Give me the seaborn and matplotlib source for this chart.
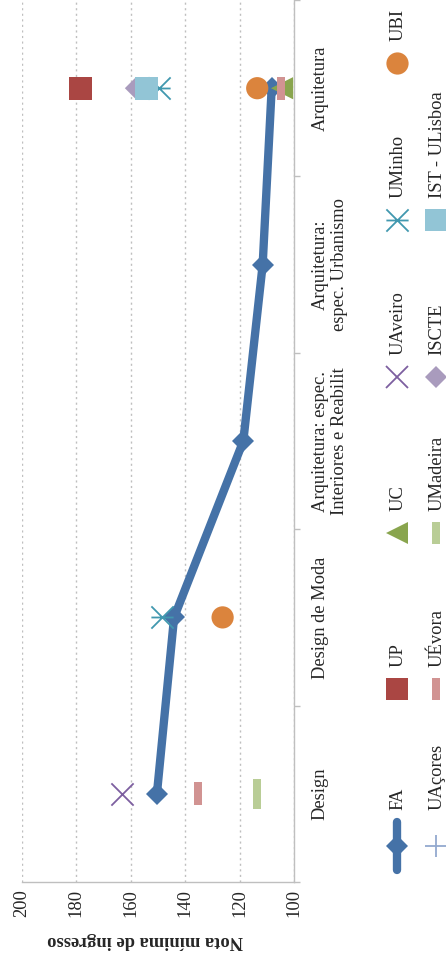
import numpy as np
import matplotlib
matplotlib.use("Agg")
import matplotlib.pyplot as plt
from matplotlib.path import Path
import seaborn as sns

# ---------------- data ----------------
categories = ["Design", "Design de Moda",
              "Arquitetura: espec.\nInteriores e Reabilit",
              "Arquitetura:\nespec. Urbanismo", "Arquitetura"]
value_ticks = [100, 120, 140, 160, 180, 200]
axis_label = "Nota mínima de ingresso"
series_names = ["FA", "UP", "UC", "UAveiro", "UMinho", "UBI",
                "UAçores", "UÉvora", "UMadeira", "ISCTE", "IST - ULisboa"]

nan = np.nan
fa = [150.4, 144.1, 118.7, 111.6, 108.3]
up = [nan, nan, nan, nan, 178.4]
uc = [nan, nan, nan, nan, 104.5]
uaveiro = [163.1, nan, nan, nan, nan]
uminho = [nan, 148.6, nan, nan, 149.8]
ubi = [nan, 126.3, nan, nan, 113.6]
uacores = [nan, nan, nan, nan, nan]
uevora = [135.4, nan, nan, nan, 105.0]
umadeira = [113.8, nan, nan, nan, nan]
iscte = [nan, nan, nan, nan, 158.2]
ist = [nan, nan, nan, nan, 154.2]

values = {"FA": fa, "UP": up, "UC": uc, "UAveiro": uaveiro, "UMinho": uminho,
          "UBI": ubi, "UAçores": uacores, "UÉvora": uevora, "UMadeira": umadeira,
          "ISCTE": iscte, "IST - ULisboa": ist}

# ---------------- styles ----------------
M, L, C = Path.MOVETO, Path.LINETO, Path.CLOSEPOLY
star_path = Path([(-1, -1), (1, 1), (-1, 1), (1, -1), (-1, 0), (1, 0)],
                 [M, L, M, L, M, L])
bar_path = Path([(-0.17, -0.5), (0.17, -0.5), (0.17, 0.5), (-0.17, 0.5), (-0.17, -0.5)],
                [M, L, L, L, C])
bar_path_tall = Path([(-0.13, -0.5), (0.13, -0.5), (0.13, 0.5), (-0.13, 0.5), (-0.13, -0.5)],
                     [M, L, L, L, C])

FA_COLOR = "#4572A7"
styles = {
    "UP": dict(marker="s", size=16.5, color="#AA4643", filled=True),
    "UC": dict(marker="<", size=16, color="#89A54E", filled=True),
    "UAveiro": dict(marker="x", size=16, color="#7D5FA0", filled=False, lw=1.3),
    "UMinho": dict(marker=star_path, size=16, color="#4198AF", filled=False, lw=1.3),
    "UBI": dict(marker="o", size=16, color="#DB843D", filled=True),
    "UAçores": dict(marker="+", size=16, color="#93A9CF", filled=False, lw=1.3),
    "UÉvora": dict(marker=bar_path, size=16.5, color="#D19392", filled=True),
    "UMadeira": dict(marker=bar_path_tall, size=22, color="#B9CD96", filled=True),
    "ISCTE": dict(marker="D", size=11, color="#A99BBD", filled=True),
    "IST - ULisboa": dict(marker="s", size=16.5, color="#92C5D6", filled=True),
}
legend_marker = {"UMadeira": (bar_path, 16.5)}

# ---------------- figure ----------------
sns.set_style("white")
plt.rcParams["font.family"] = ["Liberation Serif", "DejaVu Serif"]
plt.rcParams["font.size"] = 13.3

W, H = 446, 960
fig = plt.figure(figsize=(W / 100, H / 100), dpi=100)
ax = fig.add_axes([21.7 / W, 78 / H, (294.3 - 21.7) / W, 882 / H])

pos = np.arange(len(categories))

sns.lineplot(x=fa, y=pos, sort=False, estimator=None, ax=ax, color=FA_COLOR,
             linewidth=6, marker="D", markersize=10.7, markeredgewidth=0,
             solid_capstyle="round", solid_joinstyle="round", zorder=2)

for name in series_names[1:]:
    vals = np.array(values[name], dtype=float)
    if np.all(np.isnan(vals)):
        continue
    st = styles[name]
    if st["filled"]:
        sns.scatterplot(x=vals, y=pos, ax=ax, marker=st["marker"], s=st["size"] ** 2,
                        color=st["color"], edgecolor="none", linewidth=0, zorder=3)
    elif isinstance(st["marker"], Path):
        sns.scatterplot(x=vals, y=pos, ax=ax, marker=st["marker"], s=st["size"] ** 2,
                        color=st["color"], edgecolor=st["color"], linewidth=st["lw"], zorder=3)
    else:
        sns.scatterplot(x=vals, y=pos, ax=ax, marker=st["marker"], s=st["size"] ** 2,
                        color=st["color"], linewidth=st["lw"], zorder=3)

ax.set_xlim(200, 100)
ax.set_ylim(-0.5, len(categories) - 0.5)

# value axis (horizontal, rotated labels)
ax.set_xticks(value_ticks)
ax.set_xticklabels([str(v) for v in value_ticks])
ax.tick_params(axis="x", direction="out", length=3, color="#BFBFBF", width=1,
               labelrotation=90, pad=2, labelsize=13.3)
ax.grid(axis="x", linestyle=(0, (1.5, 2.5)), color="#BFBFBF", linewidth=1)
ax.grid(axis="y", visible=False)

# category axis (vertical, right side)
ax.yaxis.tick_right()
ax.set_yticks(pos)
ax.set_yticklabels(categories)
ax.set_yticks(np.arange(-0.5, len(categories), 1.0), minor=True)
ax.tick_params(axis="y", which="major", length=0, pad=12.5, labelrotation=90, labelsize=13.3)
ax.tick_params(axis="y", which="minor", length=4, color="#BFBFBF", width=1, direction="out",
               right=True, left=False)
for t in ax.get_yticklabels():
    t.set_va("center")
    t.set_ha("left")
    t.set_multialignment("center")

for s in ("top", "left"):
    ax.spines[s].set_visible(False)
for s in ("right", "bottom"):
    ax.spines[s].set_color("#BFBFBF")
    ax.spines[s].set_linewidth(1)

ax.set_xlabel(axis_label, rotation=180, fontweight="bold", fontsize=13.3)
ax.xaxis.set_label_coords((145 - 21.7) / (294.3 - 21.7), -(940 - 882) / 882)
ax.xaxis.label.set_va("center")
ax.set_ylabel("")

# ---------------- manual rotated legend ----------------
lax = fig.add_axes([0, 0, 1, 1])
lax.set_xlim(0, W)
lax.set_ylim(H, 0)
lax.axis("off")

entry_y = [846, 689, 533, 377, 220, 63]
col_x = [397, 436]
for i, name in enumerate(series_names):
    row, k = divmod(i, 6)
    x, y = col_x[row], entry_y[k]
    if name == "FA":
        lax.plot([x, x], [y - 24, y + 24], color=FA_COLOR, linewidth=6,
                 solid_capstyle="round")
        lax.plot([x], [y], marker="D", markersize=10.7, color=FA_COLOR,
                 markeredgewidth=0, linestyle="none")
    else:
        st = styles[name]
        mk, sz = legend_marker.get(name, (st["marker"], st["size"]))
        if st["filled"]:
            lax.plot([x], [y], marker=mk, markersize=sz, color=st["color"],
                     markeredgewidth=0, linestyle="none")
        else:
            lax.plot([x], [y], marker=mk, markersize=sz, color=st["color"],
                     markeredgewidth=st["lw"], markerfacecolor="none", linestyle="none")
    start = y - 36 if k == 0 else y - 22
    lax.text(x + 1, start, name, rotation=90, ha="center", va="bottom", fontsize=13.3)

fig.savefig("out.png", dpi=100)
